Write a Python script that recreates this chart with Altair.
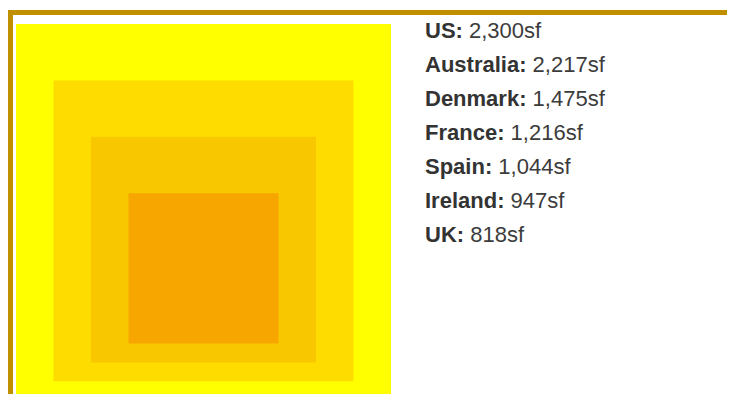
import altair as alt
import pandas as pd

# Nested squares (relative side lengths, bottom offsets) and their colours
square_sizes = [100, 80, 60, 40]
square_bottoms = [0, 5, 10, 15]
square_colors = ["#FFFF00", "#FFDC00", "#F8C700", "#F7A600"]

# Legend text: average new home size
countries = ["US", "Australia", "Denmark", "France", "Spain", "Ireland", "UK"]
area_sf = [2300, 2217, 1475, 1216, 1044, 947, 818]

FONT = "Liberation Sans, Arial, Helvetica, sans-serif"
FS = 22
TEXT_X = 409

# Arial / Liberation Sans Bold advance widths (1/1000 em) to place the value after the bold name
BOLD_W = {"U": 722, "S": 667, "A": 722, "u": 611, "s": 556, "t": 333, "r": 389, "a": 556,
          "l": 278, "i": 278, "D": 722, "e": 556, "n": 611, "m": 889, "k": 556, "F": 611,
          "c": 556, "p": 611, "I": 278, "d": 611, "K": 722, ":": 333}
SPACE_W = 278


def bold_width(s):
    return sum(BOLD_W.get(ch, 600) for ch in s) * FS / 1000.0


sq = pd.DataFrame({"size": square_sizes, "bottom": square_bottoms, "color": square_colors})
sq["order"] = range(len(sq))

txt = pd.DataFrame({
    "name": [c + ":" for c in countries],
    "value": [f"{v:,}sf" for v in area_sf],
    "row": list(range(len(countries))),
})
txt["vx"] = [TEXT_X + bold_width(n) + SPACE_W * FS / 1000.0 for n in txt["name"]]

xs = alt.Scale(domain=[0, 100], range=[0, 375])
ys = alt.Scale(domain=[0, 100], range=[376, 0])

squares = alt.Chart(sq).transform_calculate(
    x0="50 - datum.size / 2", x1="50 + datum.size / 2",
    y0="datum.bottom", y1="datum.bottom + datum.size",
).mark_rect().encode(
    x=alt.X("x0:Q", scale=xs, axis=None),
    x2="x1:Q",
    y=alt.Y("y0:Q", scale=ys, axis=None),
    y2="y1:Q",
    color=alt.Color("color:N", scale=None),
    order=alt.Order("order:Q"),
)

row_scale = alt.Scale(domain=[0, 6], range=[14, 218])

names = alt.Chart(txt).mark_text(
    align="left", baseline="alphabetic", font=FONT, fontSize=FS, fontWeight="bold", color="#333333"
).encode(
    x=alt.value(TEXT_X),
    y=alt.Y("row:Q", scale=row_scale, axis=None),
    text="name:N",
)

values = alt.Chart(txt).mark_text(
    align="left", baseline="alphabetic", font=FONT, fontSize=FS, color="#3c3c3c"
).encode(
    x=alt.X("vx:Q", scale=None, axis=None),
    y=alt.Y("row:Q", scale=row_scale, axis=None),
    text="value:N",
)

one = pd.DataFrame({"k": [0]})
border_col = "#BF8F00"
top_rule = alt.Chart(one).mark_rule(color=border_col, strokeWidth=5).encode(
    x=alt.value(-8), x2=alt.value(711), y=alt.value(-11.5)
)
left_rule = alt.Chart(one).mark_rule(color=border_col, strokeWidth=5).encode(
    x=alt.value(-5.5), y=alt.value(-14), y2=alt.value(370)
)

chart = alt.layer(squares, names, values, top_rule, left_rule).resolve_scale(
    x="independent", y="independent"
).properties(
    width=375, height=370,
    padding={"left": 8, "top": 16, "right": 336, "bottom": 0},
    autosize=alt.AutoSizeParams(type="none"),
    background="white",
).configure_view(stroke=None)

chart.save("out.html", embed_options={"renderer": "svg", "actions": False})
